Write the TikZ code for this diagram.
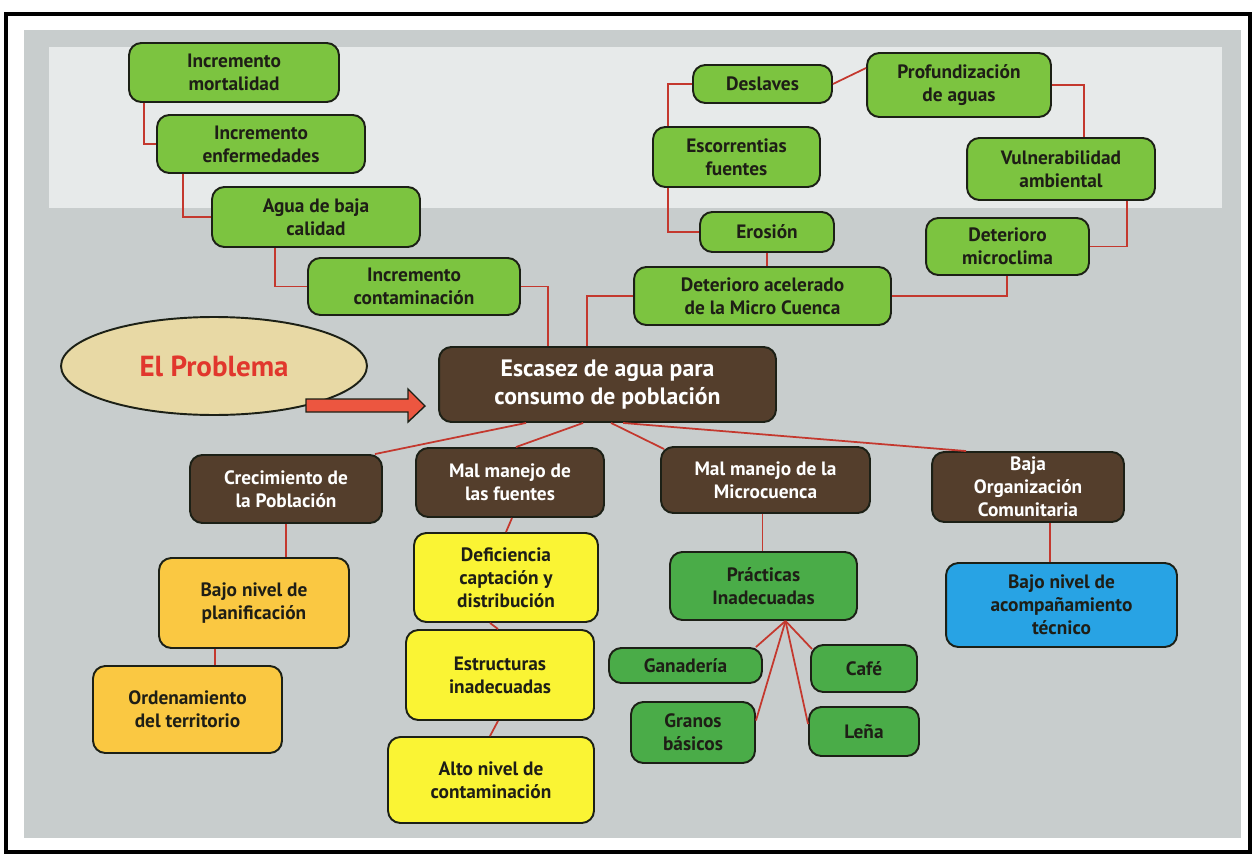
\documentclass[tikz,border=0pt]{standalone}
\usepackage{fontspec}
\setmainfont{PT Sans}
\usetikzlibrary{calc,shapes.geometric}

\definecolor{pagegray}{RGB}{200,205,205}
\definecolor{bandgray}{RGB}{231,234,234}
\definecolor{lgreenfill}{RGB}{124,196,64}
\definecolor{dgreenfill}{RGB}{74,172,72}
\definecolor{brownfill}{RGB}{84,62,44}
\definecolor{yellowfill}{RGB}{250,244,52}
\definecolor{orangefill}{RGB}{250,200,66}
\definecolor{bluefill}{RGB}{40,163,228}
\definecolor{tanfill}{RGB}{232,217,165}
\definecolor{probred}{RGB}{225,55,45}
\definecolor{arrowred}{RGB}{236,86,64}
\definecolor{linkred}{RGB}{196,56,46}
\definecolor{boxline}{RGB}{28,32,22}
\definecolor{textdark}{RGB}{30,30,22}

\begin{document}
\begin{tikzpicture}[x=0.02cm,y=-0.02cm,
  font=\bfseries\fontsize{11}{13}\selectfont,
  box/.style={draw=boxline, line width=1.1pt, rounded corners=7pt,
              align=center, inner sep=2pt, text=textdark},
  lgreen/.style={box, fill=lgreenfill},
  dgreen/.style={box, fill=dgreenfill},
  brownbox/.style={box, fill=brownfill, text=white},
  yellowbox/.style={box, fill=yellowfill},
  orangebox/.style={box, fill=orangefill},
  bluebox/.style={box, fill=bluefill},
  link/.style={draw=linkred, line width=1pt}]

% page, frame and shaded panel
\useasboundingbox (0,0) rectangle (1256,858);
\fill[white] (0,0) rectangle (1256,858);
\draw[black, line width=2.8pt] (6,14) rectangle (1250,852);
\fill[pagegray] (24,30) rectangle (1241,838);
\fill[bandgray] (49,47) rectangle (1222,208);

% effects chain (left)
\node[lgreen, minimum width=4.20cm, minimum height=1.18cm] (mort) at (234,72.5) {Incremento\\mortalidad};
\node[lgreen, minimum width=4.16cm, minimum height=1.16cm] (enf) at (261,144) {Incremento\\enfermedades};
\node[lgreen, minimum width=4.16cm, minimum height=1.20cm] (agua) at (316,217) {Agua de baja\\calidad};
\node[lgreen, minimum width=4.24cm, minimum height=1.14cm] (cont) at (414,286.5) {Incremento\\contaminación};

% effects chain (right)
\node[lgreen, minimum width=5.14cm, minimum height=1.16cm] (deta) at (762.5,296) {Deterioro acelerado\\de la Micro Cuenca};
\node[lgreen, minimum width=2.68cm, minimum height=0.80cm] (eros) at (767,232) {Erosión};
\node[lgreen, minimum width=3.34cm, minimum height=1.20cm] (esco) at (736.5,157) {Escorrentias\\fuentes};
\node[lgreen, minimum width=2.78cm, minimum height=0.76cm] (desl) at (762.5,84) {Deslaves};
\node[lgreen, minimum width=3.68cm, minimum height=1.28cm] (prof) at (959,85) {Profundización\\de aguas};
\node[lgreen, minimum width=3.76cm, minimum height=1.24cm] (vuln) at (1061,169) {Vulnerabilidad\\ambiental};
\node[lgreen, minimum width=3.26cm, minimum height=1.14cm] (micro) at (1007.5,246.5) {Deterioro\\microclima};

% central problem
\node[brownbox, minimum width=6.74cm, minimum height=1.50cm,
      font=\bfseries\fontsize{13.5}{16}\selectfont] (central) at (607.5,384.5) {Escasez de agua para\\consumo de población};
\node[ellipse, draw=boxline, line width=1.1pt, fill=tanfill,
      minimum width=6.12cm, minimum height=1.96cm, text=probred,
      font=\bfseries\fontsize{16.5}{19}\selectfont] (prob) at (214,366) {El Problema};
\draw[draw=boxline, line width=0.8pt, fill=arrowred]
  (306,399) -- (408,399) -- (408,389) -- (425,406) -- (408,422) -- (408,412) -- (306,412) -- cycle;

% causes
\node[brownbox, minimum width=3.84cm, minimum height=1.36cm] (crec) at (286,489) {Crecimiento de\\la Población};
\node[brownbox, minimum width=3.76cm, minimum height=1.38cm] (fuen) at (510,482.5) {Mal manejo de\\las fuentes};
\node[brownbox, minimum width=4.18cm, minimum height=1.32cm] (mmic) at (765.5,480) {Mal manejo de la\\Microcuenca};
\node[brownbox, minimum width=3.84cm, minimum height=1.40cm] (baja) at (1028,487) {Baja\\Organización\\Comunitaria};

% sub-causes
\node[orangebox, minimum width=3.80cm, minimum height=1.80cm] (plan) at (254,603) {Bajo nivel de\\planificación};
\node[orangebox, minimum width=3.78cm, minimum height=1.74cm] (orde) at (187.5,709.5) {Ordenamiento\\del territorio};
\node[yellowbox, minimum width=3.68cm, minimum height=1.78cm] (defi) at (506,577.5) {Deficiencia\\captación y\\distribución};
\node[yellowbox, minimum width=3.76cm, minimum height=1.80cm] (estr) at (500,675) {Estructuras\\inadecuadas};
\node[yellowbox, minimum width=4.12cm, minimum height=1.72cm] (alto) at (491,780) {Alto nivel de\\contaminación};
\node[dgreen, minimum width=3.74cm, minimum height=1.36cm] (prac) at (763.5,586) {Prácticas\\Inadecuadas};
\node[dgreen, minimum width=3.06cm, minimum height=0.70cm] (gana) at (685.5,665.5) {Ganadería};
\node[dgreen, minimum width=2.48cm, minimum height=1.22cm] (gran) at (693,732.5) {Granos\\básicos};
\node[dgreen, minimum width=2.12cm, minimum height=0.94cm] (cafe) at (864,668.5) {Café};
\node[dgreen, minimum width=2.20cm, minimum height=0.98cm] (lena) at (864,731.5) {Leña};
\node[bluebox, minimum width=4.62cm, minimum height=1.68cm] (acom) at (1061.5,605) {Bajo nivel de\\acompañamiento\\técnico};

% connectors: left chain
\draw[link] ($(mort.south west)+(16,0)$) |- (enf.west);
\draw[link] ($(enf.south west)+(27,0)$) |- (agua.west);
\draw[link] ($(agua.south west)+(64,0)$) |- (cont.west);
\draw[link] (cont.east) -| ($(central.north west)+(110,0)$);

% connectors: right chain
\draw[link] ($(central.north west)+(149,0)$) |- (deta.west);
\draw[link] (eros.south) -- (eros.south |- deta.north);
\draw[link] ($(esco.south west)+(16,0)$) |- (eros.west);
\draw[link] ($(esco.north west)+(16,0)$) |- (desl.west);
\draw[link] (desl.east) -- ($(prof.west)+(0,-17)$);
\draw[link] (prof.east) -| ($(vuln.north west)+(118,0)$);
\draw[link] ($(vuln.south west)+(161,0)$) |- (micro.east);
\draw[link] ($(micro.south west)+(82,0)$) |- (deta.east);

% connectors: causes
\draw[link] ($(central.south west)+(88,0)$) -- ($(crec.north east)+(-8,0)$);
\draw[link] ($(central.south west)+(145,0)$) -- ($(fuen.north)+(6,0)$);
\draw[link] ($(central.south west)+(173,0)$) -- ($(mmic.north west)+(4,3)$);
\draw[link] ($(central.south west)+(185,0)$) -- ($(baja.north west)+(35,0)$);

% connectors: sub-causes
\coordinate (crecfoot) at ($(crec.south)+(0,0)$);
\draw[link] (crecfoot) -- (crecfoot |- plan.north);
\coordinate (planfoot) at ($(plan.south west)+(57,0)$);
\draw[link] (planfoot) -- (planfoot |- orde.north);
\draw[link] ($(fuen.south)+(2,0)$) -- (defi.north);
\draw[link] ($(defi.south)+(-16,0)$) -- ($(estr.north)+(-2,0)$);
\draw[link] ($(estr.south)+(-2,0)$) -- ($(alto.north)+(-1,0)$);
\coordinate (mmicfoot) at ($(mmic.south)+(-3,0)$);
\draw[link] (mmicfoot) -- (mmicfoot |- prac.north);
\coordinate (fan) at ($(prac.south)+(22,0)$);
\draw[link] (fan) -- ($(gana.north east)+(-7,0)$);
\draw[link] (fan) -- ($(gran.east)+(0,-12)$);
\draw[link] (fan) -- ($(cafe.north west)+(2,5)$);
\draw[link] (fan) -- ($(lena.north west)+(0,18)$);
\coordinate (bajafoot) at ($(baja.south west)+(119,0)$);
\draw[link] (bajafoot) -- (bajafoot |- acom.north);

\end{tikzpicture}
\end{document}
